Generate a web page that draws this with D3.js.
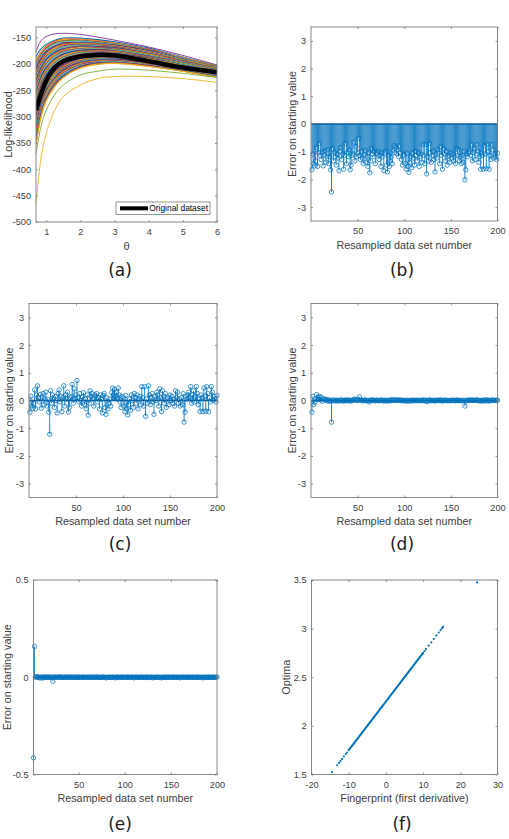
<!DOCTYPE html>
<html>
<head>
<meta charset="utf-8">
<script src="https://cdn.jsdelivr.net/npm/d3@7"></script>
<style>
  body { margin: 0; background: #fff; }
</style>
</head>
<body>
<svg id="fig" width="509" height="839"></svg>
<script>
// ---- panel (a): log-likelihood curves, values at thetaGrid
var thetaGrid = [0.7, 0.85, 1, 1.25, 1.5, 2, 2.5, 3, 4, 5, 6];
var llBand = [
  [-186,-171,-163,-155,-151,-151,-154,-158,-170,-187,-203],
  [-193,-177,-166,-157,-153,-153,-156,-160,-172,-188,-204],
  [-196,-179,-168,-159,-154,-154,-157,-161,-173,-188,-204],
  [-200,-182,-170,-160,-156,-155,-158,-162,-173,-189,-205],
  [-203,-184,-172,-162,-157,-156,-159,-162,-174,-190,-205],
  [-206,-187,-174,-164,-159,-157,-160,-163,-175,-190,-206],
  [-209,-189,-176,-166,-160,-159,-161,-164,-175,-191,-206],
  [-212,-192,-179,-167,-162,-160,-161,-165,-176,-191,-207],
  [-216,-194,-181,-169,-163,-161,-162,-166,-177,-192,-207],
  [-219,-197,-183,-171,-165,-162,-163,-166,-177,-192,-207],
  [-222,-199,-185,-173,-166,-163,-164,-167,-178,-193,-208],
  [-225,-202,-187,-174,-168,-164,-165,-168,-179,-193,-208],
  [-229,-204,-189,-176,-169,-165,-166,-169,-179,-194,-209],
  [-232,-207,-191,-178,-171,-166,-167,-169,-180,-194,-209],
  [-235,-209,-193,-179,-172,-167,-168,-170,-181,-195,-209],
  [-238,-211,-195,-181,-173,-168,-169,-171,-181,-195,-210],
  [-242,-214,-197,-183,-175,-170,-170,-172,-182,-196,-210],
  [-245,-216,-199,-185,-176,-171,-170,-172,-183,-196,-211],
  [-248,-219,-201,-186,-178,-172,-171,-173,-183,-197,-211],
  [-251,-221,-203,-188,-179,-173,-172,-174,-184,-197,-212],
  [-255,-224,-206,-190,-181,-174,-173,-175,-185,-198,-212],
  [-258,-226,-208,-191,-182,-175,-174,-176,-185,-198,-212],
  [-261,-229,-210,-193,-184,-176,-175,-176,-186,-199,-213],
  [-264,-231,-212,-195,-185,-177,-176,-177,-187,-199,-213],
  [-268,-234,-214,-197,-187,-178,-177,-178,-187,-200,-214],
  [-271,-236,-216,-198,-188,-179,-178,-179,-188,-200,-214],
  [-274,-239,-218,-200,-190,-181,-179,-180,-189,-201,-215],
  [-277,-241,-220,-202,-191,-182,-179,-180,-189,-202,-215],
  [-280,-244,-222,-203,-193,-183,-180,-181,-190,-202,-215],
  [-284,-246,-224,-205,-194,-184,-181,-182,-191,-203,-216],
  [-287,-248,-226,-207,-195,-185,-182,-183,-191,-203,-216],
  [-290,-251,-228,-209,-197,-186,-183,-183,-192,-204,-217],
  [-293,-253,-231,-210,-198,-187,-184,-184,-192,-204,-217],
  [-297,-256,-233,-212,-200,-188,-185,-185,-193,-205,-217],
  [-300,-258,-235,-214,-201,-189,-186,-186,-194,-205,-218],
  [-303,-261,-237,-215,-203,-190,-187,-187,-194,-206,-218],
  [-306,-263,-239,-217,-204,-192,-188,-187,-195,-206,-219],
  [-310,-266,-241,-219,-206,-193,-188,-188,-196,-207,-219],
  [-313,-268,-243,-221,-207,-194,-189,-189,-197,-207,-220],
  [-316,-271,-245,-222,-209,-195,-190,-190,-197,-208,-220],
  [-319,-273,-247,-224,-210,-196,-191,-190,-198,-208,-220],
  [-323,-275,-249,-226,-211,-197,-192,-191,-198,-209,-221],
  [-326,-278,-251,-228,-213,-198,-193,-192,-199,-209,-221],
  [-329,-280,-253,-229,-214,-199,-194,-193,-200,-210,-222],
  [-332,-283,-256,-231,-216,-200,-195,-194,-200,-210,-222],
  [-336,-285,-258,-233,-217,-201,-196,-194,-201,-211,-222],
  [-339,-288,-260,-234,-219,-203,-197,-195,-202,-211,-223],
  [-342,-290,-262,-236,-220,-204,-197,-196,-202,-212,-223],
  [-345,-293,-264,-238,-222,-205,-198,-197,-203,-212,-224],
  [-349,-295,-266,-240,-223,-206,-199,-197,-204,-213,-224],
  [-352,-298,-268,-241,-225,-207,-200,-198,-204,-214,-225],
  [-355,-300,-270,-243,-226,-208,-201,-199,-205,-214,-225]
];
var llHighCurve = [-176,-156,-148,-143,-142,-144,-149,-155,-168,-184,-202];
var llGreenCurve = [-372,-318,-288,-258,-240,-221,-214,-210,-212,-218,-226];
var llYellowCurve = [-465,-378,-332,-288,-262,-240,-228,-224,-224,-228,-235];
var llOriginal = [-288,-257,-232,-207,-195,-186,-183,-184,-195,-207,-216];

var thetaTicks = [1, 2, 3, 4, 5, 6];
var llTicks = [-500, -450, -400, -350, -300, -250, -200, -150];

// ---- panels (b)-(e): error on starting value per resampled data set (1..200)
var errB = [
  -1.65,-1.08,-1.43,-1.51,-1.33,-0.85,-1.53,-1.03,-0.70,-1.13,
  -1.28,-1.01,-1.51,-1.11,-0.98,-1.38,-1.18,-0.93,-1.43,-1.18,
  -1.65,-2.45,-0.88,-1.33,-1.03,-1.18,-1.48,-1.08,-1.23,-1.68,
  -0.98,-0.85,-1.28,-1.08,-1.63,-1.13,-0.70,-1.43,-1.03,-1.18,
  -0.93,-1.65,-1.48,-1.13,-1.08,-0.65,-1.33,-0.81,-1.18,-1.03,
  -0.51,-1.13,-1.28,-0.98,-1.23,-1.43,-1.11,-0.95,-1.38,-1.18,
  -1.53,-1.03,-1.76,-1.33,-0.88,-1.08,-0.98,-1.18,-1.43,-1.03,
  -1.08,-0.98,-1.28,-1.13,-1.53,-1.03,-1.18,-1.68,-1.05,-0.98,
  -1.48,-1.73,-1.13,-1.53,-1.33,-1.18,-1.43,-0.95,-0.78,-1.03,
  -0.83,-1.08,-0.93,-1.18,-0.78,-1.03,-1.28,-1.48,-1.08,-1.13,
  -1.43,-1.63,-1.05,-1.53,-1.75,-1.38,-1.18,-1.58,-1.03,-1.23,
  -1.48,-0.98,-1.13,-1.33,-1.03,-1.53,-1.18,-1.08,-1.38,-0.73,
  -1.13,-1.43,-0.73,-1.80,-1.18,-1.33,-0.70,-1.03,-1.38,-1.13,
  -0.98,-1.28,-1.73,-1.08,-1.23,-0.93,-1.03,-1.43,-0.81,-1.13,
  -1.63,-0.88,-1.08,-1.33,-0.98,-1.48,-1.18,-1.13,-1.38,-1.03,
  -1.23,-1.08,-1.33,-1.18,-1.43,-0.88,-1.13,-0.93,-1.33,-1.18,
  -1.43,-1.13,-1.38,-0.98,-2.01,-1.65,-1.08,-1.18,-1.03,-0.93,
  -1.13,-0.73,-1.33,-1.03,-0.88,-1.28,-1.08,-0.73,-0.98,-1.38,
  -1.18,-1.63,-1.03,-1.13,-1.63,-0.78,-1.08,-1.61,-0.73,-0.98,
  -1.63,-1.13,-1.28,-0.73,-0.93,-1.23,-1.08,-1.18,-1.28,-1.05
];
var errC = [
  -0.42, 0.15,-0.20,-0.28,-0.10, 0.38,-0.30, 0.20, 0.53, 0.10,
  -0.05, 0.22,-0.28, 0.12, 0.25,-0.15, 0.05, 0.30,-0.20, 0.05,
  -0.42,-1.22, 0.35,-0.10, 0.20, 0.05,-0.25, 0.15, 0.00,-0.45,
   0.25, 0.38,-0.05, 0.15,-0.40, 0.10, 0.53,-0.20, 0.20, 0.05,
   0.30,-0.42,-0.25, 0.10, 0.15, 0.58,-0.10, 0.42, 0.05, 0.20,
   0.72, 0.10,-0.05, 0.25, 0.00,-0.20, 0.12, 0.28,-0.15, 0.05,
  -0.30, 0.20,-0.53,-0.10, 0.35, 0.15, 0.25, 0.05,-0.20, 0.20,
   0.15, 0.25,-0.05, 0.10,-0.30, 0.20, 0.05,-0.45, 0.18, 0.25,
  -0.25,-0.50, 0.10,-0.30,-0.10, 0.05,-0.20, 0.28, 0.45, 0.20,
   0.40, 0.15, 0.30, 0.05, 0.45, 0.20,-0.05,-0.25, 0.15, 0.10,
  -0.20,-0.40, 0.18,-0.30,-0.52,-0.15, 0.05,-0.35, 0.20, 0.00,
  -0.25, 0.25, 0.10,-0.10, 0.20,-0.30, 0.05, 0.15,-0.15, 0.50,
   0.10,-0.20, 0.50,-0.57, 0.05,-0.10, 0.53, 0.20,-0.15, 0.10,
   0.25,-0.05,-0.50, 0.15, 0.00, 0.30, 0.20,-0.20, 0.42, 0.10,
  -0.40, 0.35, 0.15,-0.10, 0.25,-0.25, 0.05, 0.10,-0.15, 0.20,
   0.00, 0.15,-0.10, 0.05,-0.20, 0.35, 0.10, 0.30,-0.10, 0.05,
  -0.20, 0.10,-0.15, 0.25,-0.78,-0.42, 0.15, 0.05, 0.20, 0.30,
   0.10, 0.50,-0.10, 0.20, 0.35,-0.05, 0.15, 0.50, 0.25,-0.15,
   0.05,-0.40, 0.20, 0.10,-0.40, 0.45, 0.15,-0.38, 0.50, 0.25,
  -0.40, 0.10,-0.05, 0.50, 0.30, 0.00, 0.15, 0.05,-0.05, 0.18
];
var errD = [
  -0.42, 0.15,-0.15,-0.06, 0.05, 0.21, 0.04, 0.10, 0.15, 0.03,
   0.12,-0.03, 0.06, 0.03, 0.05, 0.02,-0.01, 0.03,-0.02, 0.01,
  -0.03,-0.78, 0.02,-0.01, 0.01, 0.00,-0.02, 0.01, 0.00,-0.02,
   0.01, 0.02,-0.01, 0.01,-0.02, 0.00, 0.02,-0.01, 0.01, 0.00,
   0.02,-0.02,-0.01, 0.01, 0.00, 0.03, 0.05, 0.02, 0.00, 0.01,
   0.04, 0.13, 0.00, 0.01, 0.00,-0.01, 0.01, 0.02,-0.01, 0.00,
  -0.02, 0.01,-0.05, 0.00, 0.02, 0.01, 0.01, 0.00,-0.01, 0.01,
   0.01, 0.00,-0.01, 0.01, 0.00, 0.02, 0.00,-0.02, 0.01, 0.00,
  -0.01,-0.02, 0.01, 0.00,-0.01, 0.03, 0.00, 0.01, 0.02, 0.00,
   0.02, 0.01, 0.01, 0.00, 0.02, 0.01, 0.00,-0.01, 0.01, 0.00,
  -0.01,-0.02, 0.01,-0.01,-0.02, 0.00, 0.01,-0.02, 0.01, 0.00,
  -0.01, 0.01, 0.00, 0.00, 0.01,-0.01, 0.00, 0.01,-0.01, 0.02,
   0.00,-0.01, 0.02,-0.02,-0.04, 0.00, 0.02, 0.01,-0.01, 0.00,
   0.01, 0.00,-0.02, 0.01, 0.00, 0.01, 0.01,-0.01, 0.02, 0.00,
  -0.02, 0.01, 0.01, 0.00, 0.01,-0.01, 0.00, 0.00,-0.01, 0.01,
   0.00, 0.01, 0.00, 0.00,-0.01, 0.02, 0.00, 0.01, 0.00, 0.00,
  -0.01, 0.00,-0.01, 0.01,-0.20,-0.02, 0.01, 0.00, 0.01, 0.01,
   0.00, 0.02, 0.00, 0.01, 0.01, 0.00, 0.01, 0.02, 0.01,-0.01,
   0.00,-0.02, 0.01, 0.00,-0.02, 0.02, 0.01,-0.02, 0.02, 0.01,
  -0.02, 0.00, 0.00, 0.02, 0.01, 0.00, 0.01, 0.00, 0.00, 0.01
];
var errE = [
  -0.414, 0.158, 0.002,-0.001, 0.003, 0.001, 0.000,-0.004, 0.001, 0.000,
  -0.004, 0.002, 0.000, 0.001,-0.001, 0.000, 0.002, 0.000,-0.001, 0.000,
   0.001,-0.020, 0.000, 0.001, 0.000,-0.001, 0.000, 0.002, 0.000, 0.000,
   0.001, 0.000,-0.001, 0.000, 0.001, 0.000, 0.000, 0.001, 0.000,-0.001,
   0.000, 0.001, 0.000, 0.000,-0.001, 0.000, 0.001, 0.000, 0.000, 0.001,
   0.000,-0.001, 0.000, 0.000, 0.001, 0.000, 0.000,-0.001, 0.000, 0.000,
   0.001, 0.000, 0.000,-0.001, 0.000, 0.001, 0.000, 0.000, 0.000, 0.001,
   0.000, 0.000,-0.001, 0.000, 0.000, 0.001, 0.000, 0.000,-0.001,-0.003,
   0.000, 0.001, 0.000, 0.000,-0.001, 0.000, 0.001, 0.000, 0.000,-0.003,
   0.000, 0.001, 0.000,-0.001, 0.000, 0.000, 0.001, 0.000, 0.000,-0.001,
   0.000, 0.000, 0.001, 0.000,-0.001, 0.000, 0.000, 0.001, 0.000,-0.003,
   0.000, 0.001, 0.000, 0.000,-0.001, 0.000, 0.000, 0.001, 0.000, 0.000,
  -0.001, 0.000, 0.001, 0.000, 0.000,-0.001, 0.000, 0.000, 0.001,-0.003,
   0.000, 0.000,-0.001, 0.000, 0.001, 0.000, 0.000,-0.001, 0.000,-0.003,
   0.000, 0.001, 0.000, 0.000,-0.001, 0.000, 0.001, 0.000, 0.000, 0.000,
  -0.001, 0.000, 0.001, 0.000, 0.000,-0.001, 0.000, 0.000, 0.001,-0.003,
   0.000, 0.000, 0.001, 0.000,-0.001, 0.000, 0.000, 0.001, 0.000, 0.000,
  -0.001, 0.000, 0.000, 0.001, 0.000,-0.001, 0.000, 0.000, 0.001, 0.000,
   0.000,-0.001, 0.000, 0.000,-0.003, 0.000, 0.001, 0.000,-0.001, 0.000,
   0.001, 0.000, 0.000,-0.001, 0.000, 0.001, 0.000,-0.001, 0.000, 0.001
];
var setTicks = [50, 100, 150, 200];
var errTicks = [-3, -2, -1, 0, 1, 2, 3];
var errTicksE = [-0.5, 0, 0.5];

// ---- panel (f): fingerprint vs optimum
var fingerprint = [
  -14.5,-13.1,-12.6,-12.2,-11.8,-11.3,-10.8,-10.5,
  -10.0,-9.8,-9.6,-9.4,-9.2,-9.0,-8.8,-8.6,-8.4,-8.2,
  -8.0,-7.8,-7.6,-7.4,-7.2,-7.0,-6.8,-6.6,-6.4,-6.2,
  -6.0,-5.8,-5.6,-5.4,-5.2,-5.0,-4.8,-4.6,-4.4,-4.2,
  -4.0,-3.8,-3.6,-3.4,-3.2,-3.0,-2.8,-2.6,-2.4,-2.2,
  -2.0,-1.8,-1.6,-1.4,-1.2,-1.0,-0.8,-0.6,-0.4,-0.2,
  0.0,0.2,0.4,0.6,0.8,1.0,1.2,1.4,1.6,1.8,
  2.0,2.2,2.4,2.6,2.8,3.0,3.2,3.4,3.6,3.8,
  4.0,4.2,4.4,4.6,4.8,5.0,5.2,5.4,5.6,5.8,
  6.0,6.2,6.4,6.6,6.8,7.0,7.2,7.4,7.6,7.8,
  8.0,8.2,8.4,8.6,8.8,9.0,9.2,9.4,9.6,9.8,10.0,
  10.4,10.8,11.5,12.2,12.9,13.6,14.2,14.7,15.1,15.4,24.5
];
var optima = [
  1.525,1.595,1.62,1.64,1.66,1.685,1.71,1.725,
  1.75,1.76,1.77,1.78,1.79,1.80,1.81,1.82,1.83,1.84,
  1.85,1.86,1.87,1.88,1.89,1.90,1.91,1.92,1.93,1.94,
  1.95,1.96,1.97,1.98,1.99,2.00,2.01,2.02,2.03,2.04,
  2.05,2.06,2.07,2.08,2.09,2.10,2.11,2.12,2.13,2.14,
  2.15,2.16,2.17,2.18,2.19,2.20,2.21,2.22,2.23,2.24,
  2.25,2.26,2.27,2.28,2.29,2.30,2.31,2.32,2.33,2.34,
  2.35,2.36,2.37,2.38,2.39,2.40,2.41,2.42,2.43,2.44,
  2.45,2.46,2.47,2.48,2.49,2.50,2.51,2.52,2.53,2.54,
  2.55,2.56,2.57,2.58,2.59,2.60,2.61,2.62,2.63,2.64,
  2.65,2.66,2.67,2.68,2.69,2.70,2.71,2.72,2.73,2.74,2.75,
  2.77,2.79,2.825,2.86,2.895,2.93,2.96,2.985,3.005,3.02,3.475
];
var fpTicks = [-20, -10, 0, 10, 20, 30];
var optTicks = [1.5, 2, 2.5, 3, 3.5];

var panelLabels = ['(a)', '(b)', '(c)', '(d)', '(e)', '(f)'];

// ---- drawing
var svg = d3.select('#fig');
var BLUE = '#0072BD';
var AXIS = '#7a7a7a';
var TEXT = '#404040';
var FONT = '"Liberation Sans", Arial, Helvetica, sans-serif';
var matlabColors = ['#0072BD', '#D95319', '#EDB120', '#7E2F8E', '#77AC30', '#4DBEEE', '#A2142F'];

function makeAxes(box, xDomain, yDomain) {
    var x = d3.scaleLinear().domain(xDomain).range([box.l, box.r]);
    var y = d3.scaleLinear().domain(yDomain).range([box.b, box.t]);
    return {x: x, y: y, box: box};
}

// frame, ticks (inward, mirrored like matlab box on) and labels
function drawFrame(ax, xTicks, yTicks, xLabel, yLabel, yLabelX, xLabelSize) {
    var b = ax.box;
    var g = svg.append('g');
    g.append('g').attr('transform', 'translate(0,' + b.b + ')')
        .call(d3.axisBottom(ax.x).tickValues(xTicks).tickSizeInner(-2).tickSizeOuter(0)
            .tickPadding(6.5).tickFormat(String));
    g.append('g').attr('transform', 'translate(0,' + b.t + ')')
        .call(d3.axisTop(ax.x).tickValues(xTicks).tickSizeInner(-2).tickSizeOuter(0).tickFormat(''));
    g.append('g').attr('transform', 'translate(' + b.l + ',0)')
        .call(d3.axisLeft(ax.y).tickValues(yTicks).tickSizeInner(-2).tickSizeOuter(0)
            .tickPadding(5).tickFormat(String));
    g.append('g').attr('transform', 'translate(' + b.r + ',0)')
        .call(d3.axisRight(ax.y).tickValues(yTicks).tickSizeInner(-2).tickSizeOuter(0).tickFormat(''));
    g.selectAll('.domain').remove();
    g.selectAll('.tick line').attr('stroke', AXIS).attr('stroke-width', 0.8);
    g.selectAll('.tick text').attr('fill', TEXT).attr('font-size', 9.2).attr('font-family', FONT);
    g.append('rect')
        .attr('x', b.l).attr('y', b.t)
        .attr('width', b.r - b.l).attr('height', b.b - b.t)
        .attr('fill', 'none').attr('stroke', AXIS).attr('stroke-width', 0.9);
    g.append('text')
        .attr('x', (b.l + b.r) / 2).attr('y', b.b + 27.5)
        .attr('text-anchor', 'middle')
        .attr('font-family', FONT).attr('font-size', xLabelSize || 10.8).attr('fill', TEXT)
        .text(xLabel);
    g.append('text')
        .attr('transform', 'translate(' + yLabelX + ',' + ((b.t + b.b) / 2) + ') rotate(-90)')
        .attr('text-anchor', 'middle')
        .attr('font-family', FONT).attr('font-size', 10.8).attr('fill', TEXT)
        .text(yLabel);
}

function drawStems(ax, values) {
    var g = svg.append('g');
    var dom = ax.x.domain();
    g.selectAll('line.stem').data(values).enter().append('line')
        .attr('class', 'stem')
        .attr('x1', function(d, i) { return ax.x(i + 1); })
        .attr('x2', function(d, i) { return ax.x(i + 1); })
        .attr('y1', ax.y(0))
        .attr('y2', function(d) { return ax.y(d); })
        .attr('stroke', BLUE).attr('stroke-width', 0.85);
    g.append('line')
        .attr('x1', ax.x(dom[0])).attr('x2', ax.x(dom[1]))
        .attr('y1', ax.y(0)).attr('y2', ax.y(0))
        .attr('stroke', '#0a5c99').attr('stroke-width', 1.3);
    g.selectAll('circle').data(values).enter().append('circle')
        .attr('cx', function(d, i) { return ax.x(i + 1); })
        .attr('cy', function(d) { return ax.y(d); })
        .attr('r', 2.2)
        .attr('fill', 'none').attr('stroke', BLUE).attr('stroke-width', 0.75);
}

// panel (a)
var axA = makeAxes({l: 36, r: 217, t: 27, b: 222}, [0.7, 6], [-500, -130]);
svg.append('clipPath').attr('id', 'clipA').append('rect')
    .attr('x', 36).attr('y', 27).attr('width', 181).attr('height', 195);
var llLine = d3.line()
    .x(function(d, i) { return axA.x(thetaGrid[i]); })
    .y(function(d) { return axA.y(d); })
    .curve(d3.curveCatmullRom.alpha(0.5));
var gA = svg.append('g').attr('clip-path', 'url(#clipA)');
gA.selectAll('path.band').data(llBand).enter().append('path')
    .attr('class', 'band')
    .attr('d', llLine)
    .attr('fill', 'none')
    .attr('stroke', function(d, i) { return matlabColors[i % matlabColors.length]; })
    .attr('stroke-width', 1.1);
gA.append('path').attr('d', llLine(llHighCurve)).attr('fill', 'none').attr('stroke', '#7E2F8E').attr('stroke-width', 0.9);
gA.append('path').attr('d', llLine(llGreenCurve)).attr('fill', 'none').attr('stroke', '#77AC30').attr('stroke-width', 0.9);
gA.append('path').attr('d', llLine(llYellowCurve)).attr('fill', 'none').attr('stroke', '#EDB120').attr('stroke-width', 0.9);
gA.append('path').attr('d', llLine(llOriginal)).attr('fill', 'none').attr('stroke', '#000').attr('stroke-width', 4.5);
drawFrame(axA, thetaTicks, llTicks, 'θ', 'Log-likelihood', 11.5, 11);

// legend
var leg = svg.append('g');
leg.append('rect').attr('x', 116).attr('y', 202).attr('width', 94).attr('height', 12.5)
    .attr('fill', '#fff').attr('stroke', AXIS).attr('stroke-width', 0.8);
leg.append('line').attr('x1', 120).attr('x2', 148).attr('y1', 208.3).attr('y2', 208.3)
    .attr('stroke', '#000').attr('stroke-width', 4);
leg.append('text').attr('x', 149.3).attr('y', 211.3)
    .attr('font-family', FONT).attr('font-size', 8.4).attr('fill', '#000')
    .text('Original dataset');

// panels (b)-(e)
var axB = makeAxes({l: 311, r: 497.5, t: 27, b: 221}, [0, 200], [-3.5, 3.5]);
drawStems(axB, errB);
drawFrame(axB, setTicks, errTicks, 'Resampled data set number', 'Error on starting value', 296);

var axC = makeAxes({l: 29, r: 217, t: 303.5, b: 497.5}, [0, 200], [-3.5, 3.5]);
drawStems(axC, errC);
drawFrame(axC, setTicks, errTicks, 'Resampled data set number', 'Error on starting value', 12.8);

var axD = makeAxes({l: 311, r: 497.5, t: 303.5, b: 497.5}, [0, 200], [-3.5, 3.5]);
drawStems(axD, errD);
drawFrame(axD, setTicks, errTicks, 'Resampled data set number', 'Error on starting value', 296);

var axE = makeAxes({l: 33.5, r: 217, t: 580, b: 774.5}, [1, 200], [-0.5, 0.5]);
drawStems(axE, errE);
drawFrame(axE, setTicks, errTicksE, 'Resampled data set number', 'Error on starting value', 11);

// panel (f)
var axF = makeAxes({l: 311.5, r: 497.5, t: 580, b: 774.5}, [-20, 30], [1.5, 3.5]);
svg.append('g').selectAll('circle').data(fingerprint).enter().append('circle')
    .attr('cx', function(d) { return axF.x(d); })
    .attr('cy', function(d, i) { return axF.y(optima[i]); })
    .attr('r', 1.1)
    .attr('fill', BLUE);
drawFrame(axF, fpTicks, optTicks, 'Fingerprint (first derivative)', 'Optima', 290);

// panel letters
var labelPos = [[120, 276], [402, 276], [120, 550], [402, 550], [120, 829.5], [402, 829.5]];
svg.selectAll('text.plabel').data(panelLabels).enter().append('text')
    .attr('class', 'plabel')
    .attr('x', function(d, i) { return labelPos[i][0]; })
    .attr('y', function(d, i) { return labelPos[i][1]; })
    .attr('text-anchor', 'middle')
    .attr('font-family', '"DejaVu Sans", Verdana, sans-serif')
    .attr('font-size', 17)
    .attr('fill', '#1a1a1a')
    .text(function(d) { return d; });
</script>
</body>
</html>
